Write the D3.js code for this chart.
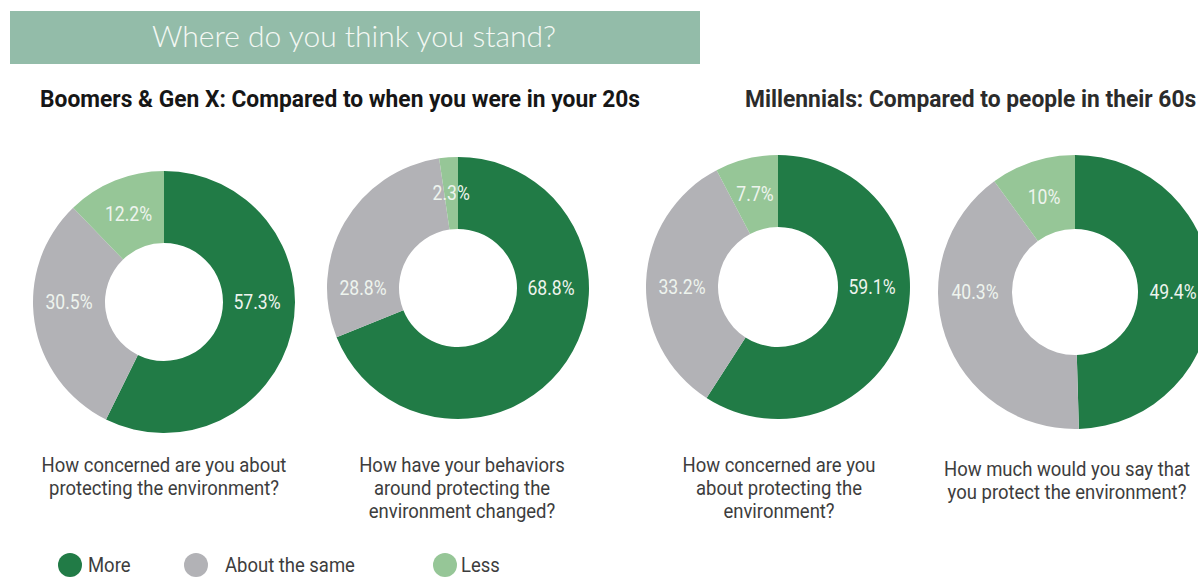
<!DOCTYPE html>
<html>
<head>
<meta charset="utf-8">
<script src="https://cdn.jsdelivr.net/npm/d3@7"></script>
<style>
  html, body { margin: 0; padding: 0; background: #fff; }
  svg { display: block; }
</style>
</head>
<body>
<script>
const categories = ["More", "About the same", "Less"];
const colors = ["#217b46", "#b2b2b6", "#96c697"];

const groups = [
  "Boomers & Gen X: Compared to when you were in your 20s",
  "Millennials: Compared to people in their 60s"
];

// values: More, About the same, Less
const boomersConcerned = [57.3, 30.5, 12.2];
const boomersBehaviors = [68.8, 28.8, 2.3];
const millennialsConcerned = [59.1, 33.2, 7.7];
const millennialsProtect = [49.4, 40.3, 10];

const questions = [
  ["How concerned are you about", "protecting the environment?"],
  ["How have your behaviors", "around protecting the", "environment changed?"],
  ["How concerned are you", "about protecting the", "environment?"],
  ["How much would you say that", "you protect the environment?"]
];

const width = 1198;
const height = 577;

// layout of each donut
const charts = [
  { values: boomersConcerned, cx: 164, cy: 302, r: 131, r0: 59, qx: 164, qy: 472 },
  { values: boomersBehaviors, cx: 458, cy: 288, r: 131, r0: 59, qx: 462, qy: 472 },
  { values: millennialsConcerned, cx: 778, cy: 287, r: 132, r0: 60, qx: 779, qy: 472 },
  { values: millennialsProtect, cx: 1075, cy: 292, r: 137, r0: 63, qx: 1067, qy: 476 }
];

const svg = d3.select("body").append("svg")
  .attr("width", width)
  .attr("height", height)
  .attr("viewBox", [0, 0, width, height]);

// text squeezed horizontally to look like a condensed face
function condensed(g, x, y, size, sx) {
  return g.append("text")
    .attr("transform", `translate(${x},${y}) scale(${sx},1)`)
    .attr("font-family", "Roboto, sans-serif")
    .attr("font-size", size);
}

// header band
svg.append("rect")
  .attr("x", 10).attr("y", 11)
  .attr("width", 690).attr("height", 53)
  .attr("fill", "#93bca9");

svg.append("text")
  .attr("x", 354).attr("y", 47)
  .attr("text-anchor", "middle")
  .attr("font-family", "Lato, sans-serif")
  .attr("font-weight", 300)
  .attr("font-size", 30)
  .attr("fill", "#f4f8f4")
  .text("Where do you think you stand?");

condensed(svg, 40, 107, 24, 0.95)
  .attr("font-weight", 700)
  .attr("fill", "#161616")
  .text(groups[0]);

condensed(svg, 745, 107, 24, 0.95)
  .attr("font-weight", 700)
  .attr("fill", "#2b2b2b")
  .text(groups[1]);

const pie = d3.pie().sort(null).value(d => d);

charts.forEach((c, i) => {
  const g = svg.append("g").attr("transform", `translate(${c.cx},${c.cy})`);
  const arc = d3.arc().innerRadius(c.r0).outerRadius(c.r);
  const rMid = (c.r0 + c.r) / 2;
  const labelArc = d3.arc().innerRadius(rMid).outerRadius(rMid);
  const arcs = pie(c.values);

  g.selectAll("path")
    .data(arcs)
    .join("path")
    .attr("d", arc)
    .attr("fill", (d, j) => colors[j]);

  // More on the right, About the same on the left, Less at its slice
  arcs.forEach((d, j) => {
    let [x, y] = labelArc.centroid(d);
    if (j === 0) { x = rMid - 2; y = 0; }
    if (j === 1) { x = -rMid; y = 0; }
    condensed(g, x, y + 7, 20, 0.88)
      .attr("text-anchor", "middle")
      .attr("fill", "#eef4ee")
      .text(`${d.data}%`);
  });

  // question below
  questions[i].forEach((line, k) => {
    condensed(svg, c.qx, c.qy + k * 23, 21, 0.88)
      .attr("text-anchor", "middle")
      .attr("fill", "#3d3d3d")
      .text(line);
  });
});

// legend
const legendX = [70, 196, 445];
const legend = svg.append("g");
categories.forEach((name, i) => {
  legend.append("circle")
    .attr("cx", legendX[i]).attr("cy", 565).attr("r", 12)
    .attr("fill", colors[i]);
  condensed(legend, legendX[i] + (i === 0 ? 18 : i === 1 ? 29 : 16), 572, 21, 0.88)
    .attr("fill", "#3d3d3d")
    .text(name);
});
</script>
</body>
</html>
